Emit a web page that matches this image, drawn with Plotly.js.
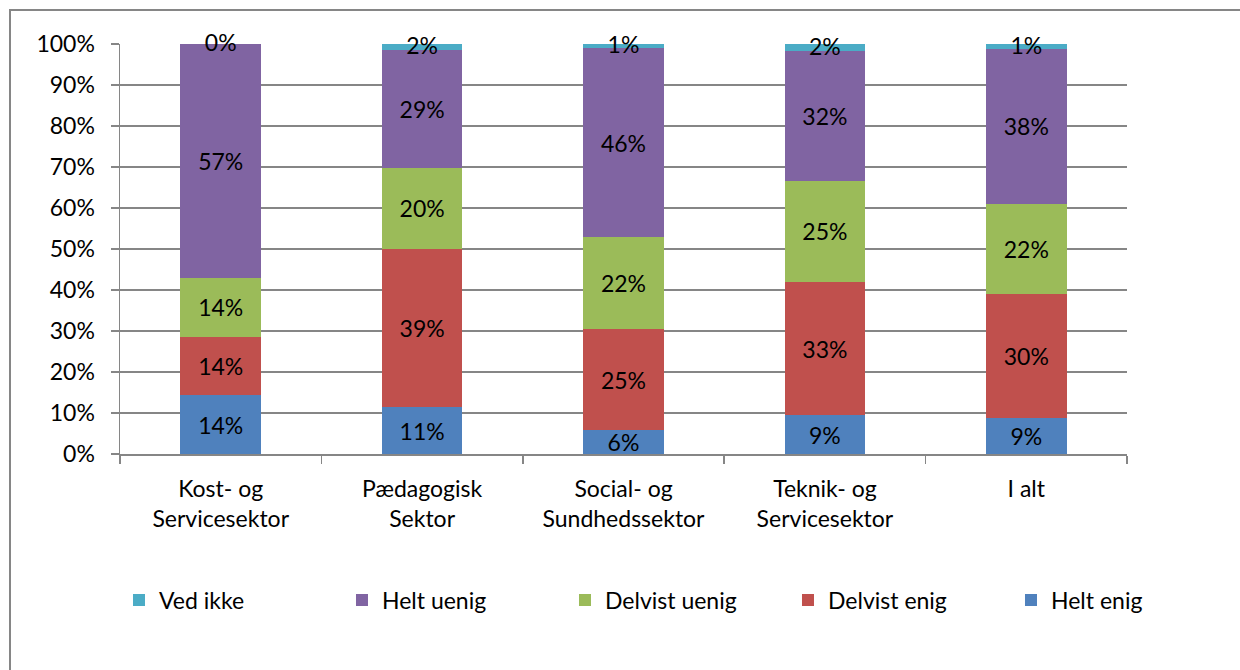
<!DOCTYPE html>
<html>
<head>
<meta charset="utf-8">
<script src="https://cdn.plot.ly/plotly-3.0.1.min.js"></script>
<style>
  html, body { margin: 0; padding: 0; background: #fff; overflow: hidden; }
  #wrap { position: relative; width: 1240px; height: 670px; }
  #frame { position: absolute; left: 9px; top: 9px; width: 1260px; height: 700px; border: 2px solid #868686; box-sizing: border-box; pointer-events: none; }
  #chart { position: absolute; left: 0; top: 0; width: 1240px; height: 670px; }
</style>
</head>
<body>
<div id="wrap">
  <div id="chart"></div>
  <div id="frame"></div>
</div>
<script>
const categories = ["Kost- og<br>Servicesektor", "Pædagogisk<br>Sektor", "Social- og<br>Sundhedssektor", "Teknik- og<br>Servicesektor", "I alt"];
const heltEnig     = [14.3, 11.4, 5.8, 9.4, 8.8];
const delvistEnig  = [14.3, 38.6, 24.7, 32.6, 30.2];
const delvistUenig = [14.3, 19.8, 22.4, 24.6, 22.0];
const heltUenig    = [57.1, 28.7, 46.1, 31.6, 37.8];
const vedIkke      = [0.0, 1.5, 1.0, 1.8, 1.2];
const yTickVals = [0, 10, 20, 30, 40, 50, 60, 70, 80, 90, 100];
const yTickText = yTickVals.map(v => v + "%");

const FONT = "Lato, 'Open Sans', sans-serif";
const FS = 23;
const pct = arr => arr.map(v => Math.round(v) + "%");

function barTrace(name, vals, color, showText) {
  return {
    type: "bar", name: name, x: categories, y: vals,
    marker: { color: color, line: { width: 0 } },
    text: showText ? pct(vals) : undefined,
    textposition: showText ? "inside" : "none",
    insidetextanchor: "middle",
    constraintext: "none",
    textfont: { family: FONT, size: FS, color: "#000" },
    hoverinfo: "skip"
  };
}

const traces = [
  barTrace("Helt enig", heltEnig, "#4F81BD", true),
  barTrace("Delvist enig", delvistEnig, "#C0504D", true),
  barTrace("Delvist uenig", delvistUenig, "#9BBB59", true),
  barTrace("Helt uenig", heltUenig, "#8064A2", true),
  barTrace("Ved ikke", vedIkke, "#4BACC6", false),
  {
    type: "scatter", mode: "text", x: categories,
    y: vedIkke.map(v => 100 - v / 2 - 0.4),
    text: pct(vedIkke),
    textposition: "middle center",
    textfont: { family: FONT, size: FS, color: "#000" },
    showlegend: false, hoverinfo: "skip", cliponaxis: false
  }
];

const layout = {
  width: 1240, height: 670,
  margin: { l: 120, r: 113, t: 44, b: 216 },
  paper_bgcolor: "rgba(0,0,0,0)", plot_bgcolor: "#fff",
  barmode: "stack", bargap: 0.6,
  font: { family: FONT, size: FS, color: "#000" },
  showlegend: true,
  legend: {
    orientation: "h", traceorder: "reversed",
    x: -0.001, xanchor: "left", y: -0.356, yanchor: "middle",
    font: { family: FONT, size: FS, color: "#000" },
    itemwidth: 30, entrywidth: 178, entrywidthmode: "pixels"
  },
  xaxis: {
    type: "category", showline: true, linecolor: "#868686", linewidth: 1.5,
    ticks: "outside", tickson: "boundaries", ticklen: 8, tickcolor: "#868686", tickwidth: 1.5,
    showgrid: false, tickfont: { family: FONT, size: FS, color: "#000" },
    ticklabelstandoff: 14, fixedrange: true
  },
  yaxis: {
    range: [0, 100], tickvals: yTickVals, ticktext: yTickText,
    showline: true, linecolor: "#868686", linewidth: 1.5,
    ticks: "outside", ticklen: 8, tickcolor: "#868686", tickwidth: 1.5,
    showgrid: true, gridcolor: "#868686", gridwidth: 1.5,
    zeroline: false, tickfont: { family: FONT, size: FS, color: "#000" },
    ticklabelstandoff: 11, fixedrange: true
  }
};

Plotly.newPlot("chart", traces, layout, { displayModeBar: false, staticPlot: true });
</script>
</body>
</html>
